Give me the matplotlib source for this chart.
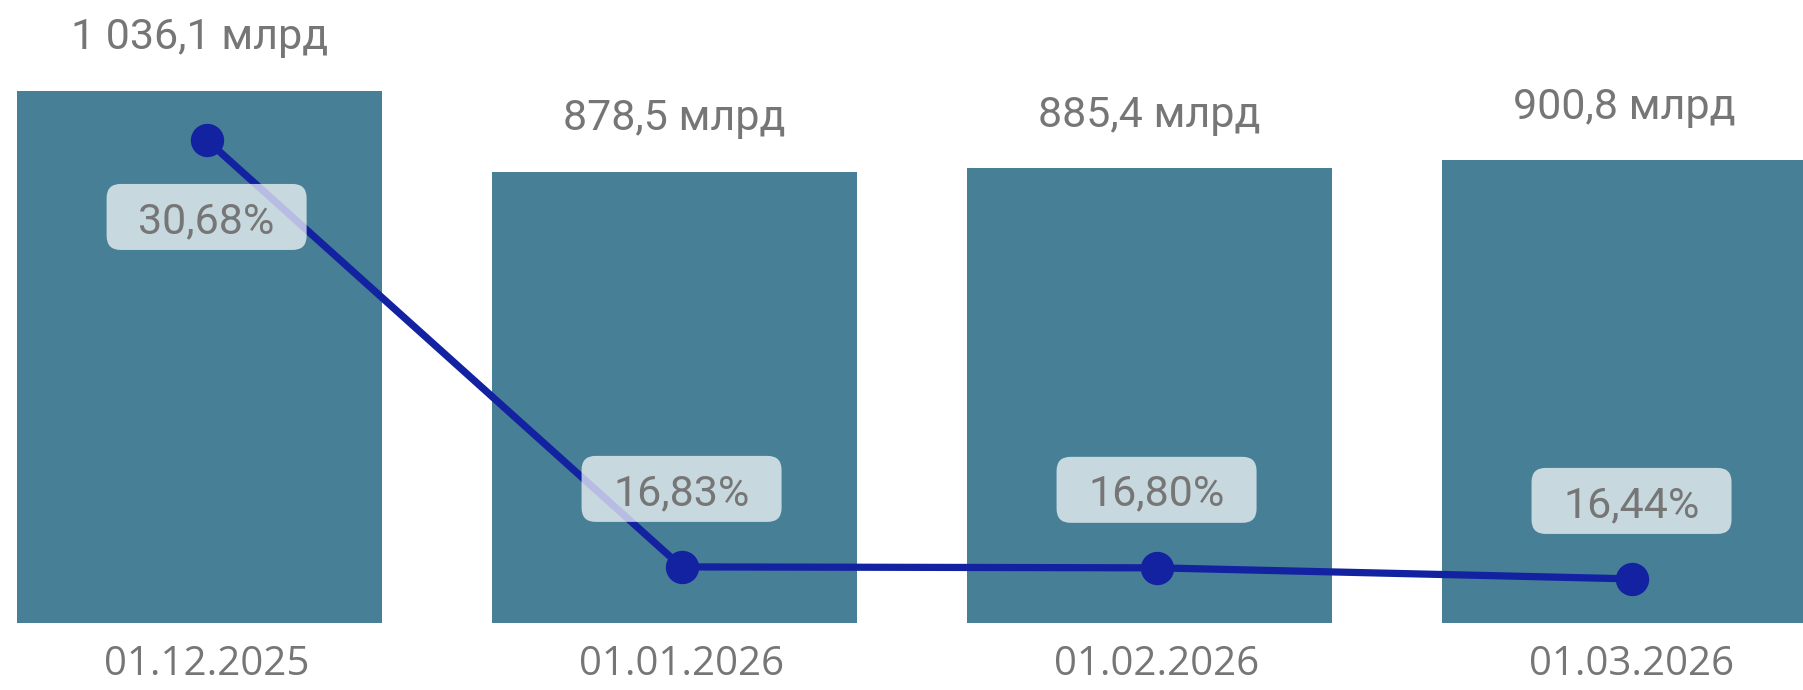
import numpy as np
import matplotlib
matplotlib.use("Agg")
import matplotlib.pyplot as plt
from matplotlib.patches import FancyBboxPatch
from matplotlib.transforms import ScaledTranslation

dates = ["01.12.2025", "01.01.2026", "01.02.2026", "01.03.2026"]
volume = [1036.1, 878.5, 885.4, 900.8]          # млрд
volume_labels = ["1 036,1 млрд", "878,5 млрд", "885,4 млрд", "900,8 млрд"]
share = [30.68, 16.83, 16.80, 16.44]            # %
share_labels = ["30,68%", "16,83%", "16,80%", "16,44%"]

bar_color = "#467f96"
line_color = "#1222a0"
text_color = "#767676"

fig = plt.figure(figsize=(18.03, 6.9), dpi=100)
ax = fig.add_axes([0, 67 / 690, 1, 623 / 690])
ax2 = ax.twinx()

x = np.arange(len(dates))
shift = 0.015  # line and dates sit a bit right of bar centres

ax.bar(x, volume, width=0.768, color=bar_color, zorder=1)
ax.set_xlim(-0.42, 3.376)
ax.set_ylim(0, 1213.3)

for xi, v, lab in zip(x, volume, volume_labels):
    ax.annotate(lab, (xi, v), xytext=(0, 53), textcoords="offset pixels",
                ha="center", va="center", fontsize=31, color=text_color,
                family="Roboto", annotation_clip=False)

for xi, d in zip(x, dates):
    ax.annotate(d, (xi + shift, 0), xytext=(0, -42), textcoords="offset pixels",
                ha="center", va="center", fontsize=29, color=text_color,
                family="Open Sans", annotation_clip=False)

ax2.plot(x + shift, share, color=line_color, lw=5.2, marker="o", ms=23,
         solid_capstyle="round", zorder=3)
ax2.set_ylim(15.01, 35.22)

# rounded label boxes, first one below its point, others above
for i, (xi, s, lab) in enumerate(zip(x, share, share_labels)):
    dy = -0.77 if i == 0 else 0.78
    tr = fig.dpi_scale_trans + ScaledTranslation(xi + shift, s, ax2.transData)
    box = FancyBboxPatch((-0.85, dy - 0.18), 1.7, 0.36,
                         boxstyle="round,pad=0.15,rounding_size=0.14",
                         facecolor="white", alpha=0.7, edgecolor="none",
                         transform=tr, zorder=4, clip_on=False)
    ax2.add_patch(box)
    ax2.text(0, dy, lab, transform=tr, ha="center", va="center_baseline",
             fontsize=31, color=text_color, family="Roboto", zorder=5)

for a in (ax, ax2):
    a.axis("off")

fig.savefig("out.png", dpi=100)
